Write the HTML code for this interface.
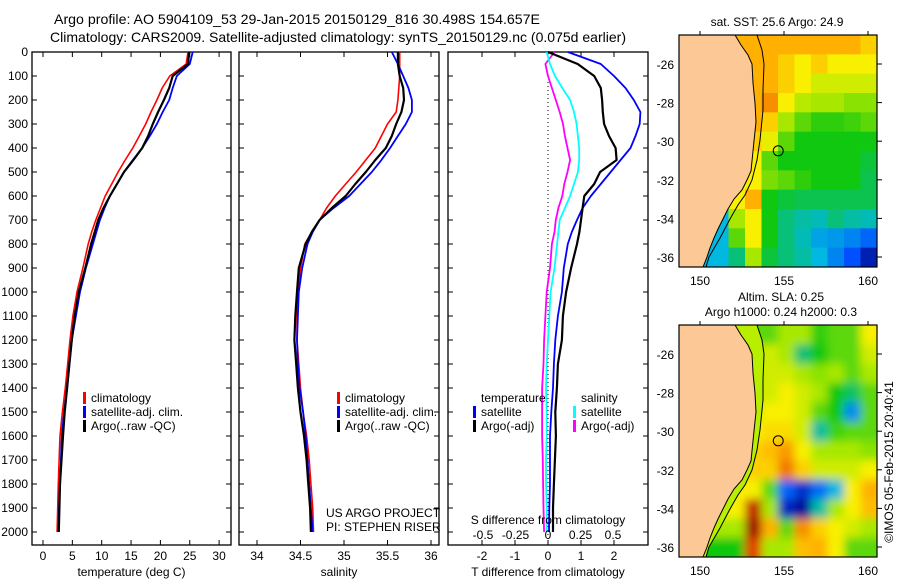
<!DOCTYPE html>
<html><head><meta charset="utf-8"><style>
html,body{margin:0;padding:0;background:#fff;}
svg{display:block;font-family:"Liberation Sans",sans-serif;}
text{font-size:12px;fill:#000;}
</style></head><body>
<svg id="fig" width="900" height="580" viewBox="0 0 900 580" xmlns="http://www.w3.org/2000/svg">
<text x="54" y="24" textLength="486" lengthAdjust="spacingAndGlyphs" style="font-size:14px">Argo profile: AO 5904109_53 29-Jan-2015 20150129_816 30.498S 154.657E</text>
<text x="50" y="42" textLength="576" lengthAdjust="spacingAndGlyphs" style="font-size:14px">Climatology: CARS2009. Satellite-adjusted climatology: synTS_20150129.nc (0.075d earlier)</text>
<g id="g1"></g>
<g id="g2"></g>
<g id="g3"></g>
<g id="m1"></g>
<g id="m2"></g>
<text x="777" y="26" text-anchor="middle">sat. SST: 25.6 Argo: 24.9</text>
<text x="781" y="301" text-anchor="middle">Altim. SLA: 0.25</text>
<text x="781" y="316" text-anchor="middle">Argo h1000: 0.24 h2000: 0.3</text>
<text transform="translate(893,462) rotate(-90)" text-anchor="middle">©IMOS 05-Feb-2015 20:40:41</text>
<defs>
<filter id="blur" x="-5%" y="-5%" width="110%" height="110%"><feGaussianBlur stdDeviation="4.5"/></filter>
<clipPath id="clip1"><rect x="679" y="35" width="198" height="232"/></clipPath>
<clipPath id="clip2"><rect x="679" y="325" width="198" height="232"/></clipPath>
</defs>
</svg>
<script>
const depths=[0,50,100,150,200,250,300,350,400,450,500,550,600,650,700,750,800,900,1000,1100,1200,1300,1400,1500,1600,1700,1800,1900,2000];
const tempClim=[24.7,24.4,21.6,20.3,19.4,18.4,17.5,16.4,15.3,14.0,12.8,11.7,10.6,9.8,9.0,8.3,7.7,6.8,5.8,5.1,4.6,4.2,3.8,3.3,2.9,2.75,2.6,2.5,2.4];
const tempSat=[25.5,25.0,22.8,22.1,21.5,20.4,19.4,18.2,16.9,15.3,13.8,12.6,11.4,10.5,9.7,9.1,8.5,7.3,6.3,5.6,4.9,4.5,4.1,3.6,3.2,3.05,2.9,2.75,2.6];
const tempArgo=[24.9,24.7,22.1,21.5,20.6,19.6,18.7,17.9,16.9,15.4,13.8,12.6,11.4,10.3,9.4,8.8,8.2,7.2,6.1,5.4,4.9,4.5,4.1,3.7,3.4,3.15,2.9,2.8,2.7];
const salClim=[35.64,35.64,35.64,35.63,35.62,35.6,35.5,35.43,35.36,35.25,35.14,35.02,34.9,34.8,34.72,34.63,34.55,34.5,34.47,34.46,34.46,34.48,34.5,34.53,34.57,34.6,34.62,34.64,34.65];
const salSat=[35.55,35.62,35.68,35.74,35.78,35.78,35.71,35.62,35.53,35.43,35.32,35.19,35.06,34.88,34.72,34.64,34.58,34.52,34.48,34.47,34.46,34.47,34.49,34.53,34.56,34.58,34.6,34.62,34.64];
const salArgo=[35.62,35.62,35.64,35.68,35.69,35.66,35.6,35.55,35.48,35.36,35.25,35.13,35.02,34.86,34.72,34.63,34.56,34.48,34.46,34.44,34.43,34.45,34.47,34.5,34.54,34.57,34.59,34.61,34.62];
const dTSat=[0.6,1.6,2.0,2.35,2.6,2.8,2.78,2.65,2.5,2.2,1.9,1.6,1.3,1.05,0.88,0.72,0.6,0.48,0.42,0.3,0.22,0.18,0.15,0.1,0.06,0.06,0.06,0.04,0.03];
const dTArgo=[0.0,0.9,1.4,1.6,1.64,1.66,1.7,1.85,2.05,2.08,1.58,1.4,1.1,1.05,1.0,0.95,0.88,0.7,0.55,0.45,0.42,0.3,0.27,0.22,0.24,0.21,0.18,0.15,0.15];
const dSSat=[-0.01,0.015,0.054,0.11,0.17,0.2,0.22,0.23,0.24,0.24,0.23,0.2,0.17,0.13,0.09,0.08,0.07,0.05,0.02,0.01,0.0,-0.01,-0.015,-0.01,-0.01,-0.015,-0.015,-0.01,-0.01];
const dSArgo=[0.05,-0.02,0.0,0.03,0.06,0.09,0.115,0.13,0.15,0.17,0.15,0.125,0.11,0.08,0.06,0.05,0.03,0.015,-0.01,-0.02,-0.03,-0.035,-0.045,-0.045,-0.045,-0.04,-0.038,-0.035,-0.03];
const depthTicks=[0,100,200,300,400,500,600,700,800,900,1000,1100,1200,1300,1400,1500,1600,1700,1800,1900,2000];
const tTicks=[0,5,10,15,20,25,30];
const sTicks=[34,34.5,35,35.5,36];
const sTickLabels=["34","34.5","35","35.5","36"];
const dTTicks=[-2,-1,0,1,2];
const dSTicks=[-0.5,-0.25,0,0.25,0.5];
const dSTickLabels=["-0.5","-0.25","0","0.25","0.5"];
const latTicks=[-26,-28,-30,-32,-34,-36];
const lonTicks=[150,155,160];
const argoLon=154.657, argoLat=-30.498;
const sstGrid=[
[6,6,6,6,6,6,6,6,6,6,6,5.5],
[6,6,6,6,6,6,5.5,5,5.5,5,5,5],
[6,6,6,6,6,6,5.5,5,4.5,4.5,4.5,4.5],
[6,6,6,6,6,6.3,5,4.2,4,4,3.8,3.8],
[6,6,6,6,6,5.5,4,3.5,3.2,3.2,3.3,3.5],
[5.5,5.5,5.5,5.5,5.5,4.8,3.5,3,3,3,3,3],
[5,5,5,5,5,3.5,3,3,3,3,3,2.8],
[5,5,5,5,5,3.7,3.5,3.2,3,3,3,2.7],
[5,5,5,5,6,3,2.8,2.7,2.7,2.7,2.7,2.7],
[2,2,2,4,5,3,2.5,2.3,2.2,2.5,2.3,2.2],
[2,2,2,3.5,5,3,2.5,2.2,1.8,1.7,1.5,1.2],
[2,2,2,2.5,4,2.8,2.5,2.3,2,1.5,1,0.4]];
const slaGrid=[
[4,4,4,4,3.5,3.5,4,4,3.2,3.5,3.5,5],
[4,4,4,4,4,4.5,4,2.5,3,3.5,3.5,4.5],
[4,4,4,4,4,4.5,4.5,4,3.8,4,3.5,4],
[4.5,4.5,4.5,4.5,4.5,4.5,5,4.5,4,3,2.6,3.5],
[4.5,4.5,4.5,4.5,4.5,5,5,4.5,3.5,3,1.6,3.5],
[5,5,5,5,5,5.3,5.3,4.5,2.3,3.3,3.5,3.5],
[5.5,5.5,5.5,5.5,5.5,5.8,6.2,5,4,4,4,3.8],
[5.5,5.5,5.5,5.5,5.5,5.5,6.5,5.5,4.5,4.5,4.5,5],
[5,5,5,5,5,3.5,1.2,0.6,1.3,2,5,6],
[5,5,5,5,7.5,4,0.5,0.2,2.3,4,5,5.8],
[4,4,4,4,8.4,6,3.5,6.3,5.5,5,4.5,4],
[3,3,3,3,7,4,4,5.8,6,5,3.5,3.5]];

const NS='http://www.w3.org/2000/svg';
function mk(parent,tag,attrs,txt){const e=document.createElementNS(NS,tag);for(const k in attrs)e.setAttribute(k,attrs[k]);if(txt!==undefined)e.textContent=txt;parent.appendChild(e);return e;}
const Y0=52, YB=545;
const yD=d=>Y0+d*0.24;

function panel(g,x0,x1,xs,ticks,labels,xlabel,showDepth){
  const f=mk(g,'rect',{x:x0,y:Y0,width:x1-x0,height:YB-Y0,fill:'none',stroke:'#000','stroke-width':1.3});
  
  depthTicks.forEach(d=>{
    mk(g,'line',{x1:x0,x2:x0+5,y1:yD(d),y2:yD(d),stroke:'#000'});
    mk(g,'line',{x1:x1-5,x2:x1,y1:yD(d),y2:yD(d),stroke:'#000'});
    if(showDepth){const t=mk(g,'text',{x:28,y:yD(d)+4,'text-anchor':'end'},String(d));
      }
  });
  ticks.forEach((v,i)=>{
    const x=xs(v);
    mk(g,'line',{x1:x,x2:x,y1:YB,y2:YB-5,stroke:'#000'});
    mk(g,'line',{x1:x,x2:x,y1:Y0,y2:Y0+5,stroke:'#000'});
    if(labels){const t=mk(g,'text',{x:x,y:560,'text-anchor':'middle'},labels[i]);
      }
  });
  const xl=mk(g,'text',{x:(x0+x1)/2,y:576,'text-anchor':'middle'},xlabel);
  
}
function line(g,xs,vals,color,w,name){
  let d='';vals.forEach((v,i)=>{d+=(i?'L':'M')+xs(v).toFixed(1)+','+yD(depths[i]).toFixed(1);});
  const p=mk(g,'path',{d:d,fill:'none',stroke:color,'stroke-width':w,'stroke-linejoin':'round'});
  
}
function legend(g,x,y,color,label){
  const r=mk(g,'rect',{x:x,y:y-10,width:3,height:12,fill:color});
  
  const t=mk(g,'text',{x:x+8,y:y},label);
  
}
const g1=document.getElementById('g1');
const xT=v=>43+v*5.87;
panel(g1,32,231,xT,tTicks,tTicks.map(String),'temperature (deg C)',true);
line(g1,xT,tempClim,'#f00',1.6,'temperature-climatology-line');
line(g1,xT,tempSat,'#00f',1.8,'temperature-satellite-line');
line(g1,xT,tempArgo,'#000',2.2,'temperature-argo-line');
legend(g1,83,402,'#f00','climatology');legend(g1,83,416,'#00f','satellite-adj. clim.');legend(g1,83,430,'#000','Argo(..raw -QC)');
const g2=document.getElementById('g2');
const xS=v=>257+(v-34)*87;
panel(g2,239,439,xS,sTicks,sTickLabels,'salinity',false);
line(g2,xS,salClim,'#f00',1.6,'salinity-climatology-line');
line(g2,xS,salSat,'#00f',1.8,'salinity-satellite-line');
line(g2,xS,salArgo,'#000',2.2,'salinity-argo-line');
legend(g2,337,402,'#f00','climatology');legend(g2,337,416,'#00f','satellite-adj. clim.');legend(g2,337,430,'#000','Argo(..raw -QC)');
let t=mk(g2,'text',{x:326,y:517},'US ARGO PROJECT');
t=mk(g2,'text',{x:326,y:531},'PI: STEPHEN RISER');
const g3=document.getElementById('g3');
const xdT=v=>548+v*33, xdS=v=>548+v*130;
panel(g3,448,648,xdT,dTTicks,dTTicks.map(String),'T difference from climatology',false);
const zl=mk(g3,'line',{x1:xdT(0),x2:xdT(0),y1:Y0+30,y2:YB,stroke:'#000','stroke-dasharray':'1,3'});

line(g3,xdS,dSArgo,'#f0f',1.8,'salinity-argo-diff-line');
line(g3,xdS,dSSat,'#0ff',1.8,'salinity-satellite-diff-line');
line(g3,xdT,dTSat,'#00f',1.8,'temperature-satellite-diff-line');
line(g3,xdT,dTArgo,'#000',2.2,'temperature-argo-diff-line');
dSTicks.forEach((v,i)=>{const s=mk(g3,'text',{x:xdS(v),y:539,'text-anchor':'middle'},dSTickLabels[i]);
  });
t=mk(g3,'text',{x:548,y:524,'text-anchor':'middle'},'S difference from climatology');
t=mk(g3,'text',{x:481,y:402},'temperature');
t=mk(g3,'text',{x:581,y:402},'salinity');
legend(g3,473,416,'#00f','satellite');legend(g3,473,430,'#000','Argo(-adj)');
legend(g3,573,416,'#0ff','satellite');legend(g3,573,430,'#f0f','Argo(-adj)');

const stops=[[0,[0,0,127]],[1,[0,80,255]],[2,[0,184,224]],[3,[16,200,16]],[4,[168,232,0]],[5,[248,240,0]],[6,[255,176,0]],[7,[224,64,0]],[8,[160,0,0]]];
function cmap(v){v=Math.max(0,Math.min(8,v));for(let i=0;i<stops.length-1;i++){const a=stops[i],b=stops[i+1];if(v<=b[0]){const f=(v-a[0])/(b[0]-a[0]);const c=a[1].map((x,j)=>Math.round(x+(b[1][j]-x)*f));return 'rgb('+c.join(',')+')';}}return 'rgb(160,0,0)';}
const coast=[[735,0],[741,10],[748,20],[752,29],[753,48],[755,68],[756,87],[754,106],[752,126],[751,136],[747,145],[742,155],[734,164],[728,174],[723,184],[718,194],[714,203],[710,213],[707,222],[703,232]];
const shelf=[[757,0],[762,15],[764,29],[763,55],[763,75],[760,105],[757,125],[752,145],[745,160],[738,170],[730,184],[720,203],[709,222],[706,232]];
function drawMap(id,top,grid,blur,shelfFill){
  const g=document.getElementById(id);
  const lon=v=>700+(v-150)*16.8, lat=v=>top+29+(-26-v)*19.3;
  const cells=mk(g,'g',{'clip-path':'url(#clip'+(id==='m1'?1:2)+')'});
  const inner=mk(cells,'g',blur?{filter:'url(#blur)'}:{});
  const cw=198/12, ch=232/12;
  grid.forEach((row,r)=>row.forEach((v,c)=>{
    const ext=blur?(c===0?-20:0):0, exr=blur?(c===11?20:0):0, ext2=blur?(r===0?-20:0):0, exb=blur?(r===11?20:0):0;
    const rc=mk(inner,'rect',{x:679+c*cw+ext,y:top+r*ch+ext2,width:cw+0.6-ext+exr,height:ch+0.6-ext2+exb,fill:cmap(v)});
    
  }));
  if(shelfFill){
    let sp='M'+shelf.map(p=>p[0]+','+(top+p[1])).join('L')+'L679,'+(top+232)+'L679,'+top+'Z';
    mk(cells,'path',{d:sp,fill:shelfFill});
  }
  const sl=mk(cells,'path',{d:'M'+shelf.map(p=>p[0]+','+(top+p[1])).join('L'),fill:'none',stroke:'#000','stroke-width':1});
  
  let lp='M679,'+top+'L'+coast.map(p=>p[0]+','+(top+p[1])).join('L')+'L679,'+(top+232)+'Z';
  const land=mk(cells,'path',{d:lp,fill:'#fcc896',stroke:'#000','stroke-width':1});
  
  const fr=mk(g,'rect',{x:679,y:top,width:198,height:232,fill:'none',stroke:'#000','stroke-width':1.2});
  
  latTicks.forEach(v=>{const y=lat(v);mk(g,'line',{x1:877,x2:882,y1:y,y2:y,stroke:'#000'});
    const tl=mk(g,'text',{x:674,y:y+5,'text-anchor':'end'},String(v));});
  lonTicks.forEach(v=>{const x=lon(v);mk(g,'line',{x1:x,x2:x,y1:top,y2:top-4,stroke:'#000'});
    const tl=mk(g,'text',{x:x,y:top+250,'text-anchor':'middle'},String(v));});
  const ci=mk(g,'circle',{cx:lon(argoLon),cy:lat(argoLat),r:5,fill:'none',stroke:'#000','stroke-width':1});
  
}
drawMap('m1',35,sstGrid,false,null);
drawMap('m2',325,slaGrid,true,'#b8ee00');
</script>
</body></html>
